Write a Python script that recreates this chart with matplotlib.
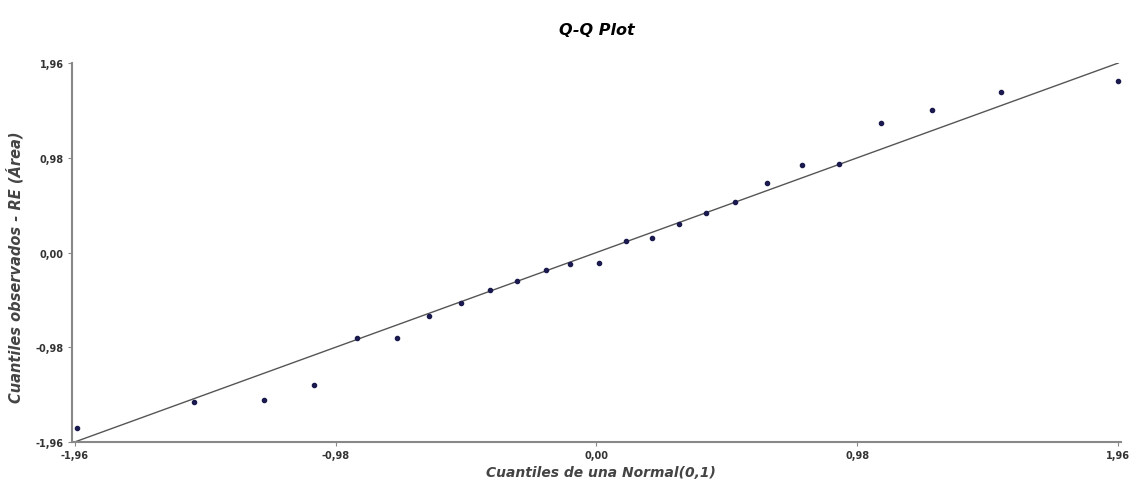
import matplotlib
matplotlib.use("Agg")
import matplotlib.pyplot as plt
import numpy as np

# Cuantiles teóricos (Normal(0,1)) y observados
teoricos = [-1.95, -1.51, -1.25, -1.06, -0.90, -0.75, -0.63, -0.51, -0.40,
            -0.30, -0.19, -0.10, 0.01, 0.11, 0.21, 0.31, 0.41, 0.52, 0.64,
            0.77, 0.91, 1.07, 1.26, 1.52, 1.96]
observados = [-1.82, -1.55, -1.53, -1.37, -0.88, -0.88, -0.66, -0.52, -0.39,
              -0.29, -0.18, -0.12, -0.11, 0.12, 0.15, 0.29, 0.41, 0.52, 0.72,
              0.91, 0.92, 1.34, 1.47, 1.66, 1.77]
ticks = [-1.96, -0.98, 0.0, 0.98, 1.96]
tick_labels = ["-1,96", "-0,98", "0,00", "0,98", "1,96"]

fig = plt.figure(figsize=(11.35, 4.81), dpi=100)
ax = fig.add_axes([72 / 1135, 38 / 481, 1049 / 1135, 379 / 481])

# Recta de referencia y = x
ref = np.array([-1.96, 1.96])
ax.plot(ref, ref, color="#555555", linewidth=1.0, zorder=2)
ax.scatter(teoricos, observados, s=9, color="#1a1a4e", zorder=3)

ax.set_xlim(-1.97, 1.97)
ax.set_ylim(-1.96, 1.96)
ax.set_xticks(ticks)
ax.set_xticklabels(tick_labels)
ax.set_yticks(ticks)
ax.set_yticklabels(tick_labels)
ax.tick_params(labelsize=7, length=3, color="#888888", pad=3)
for lbl in ax.get_xticklabels() + ax.get_yticklabels():
    lbl.set_fontweight("bold")
    lbl.set_color("#333333")

for s in ["top", "right"]:
    ax.spines[s].set_visible(False)
for s in ["left", "bottom"]:
    ax.spines[s].set_color("#888888")
    ax.spines[s].set_linewidth(1.5)

ax.set_title("Q-Q Plot", fontsize=11.5, fontweight="bold", style="italic", pad=21)
ax.set_xlabel("Cuantiles de una Normal(0,1)", fontsize=10, fontweight="bold",
              style="italic", color="#444444")
ax.set_ylabel("Cuantiles observados - RE (Área)", fontsize=10.5, fontweight="bold",
              style="italic", color="#444444")
ax.xaxis.set_label_coords(0.504, -0.061)
ax.yaxis.set_label_coords(-0.046, 0.464)

fig.savefig("out.png", dpi=100)
